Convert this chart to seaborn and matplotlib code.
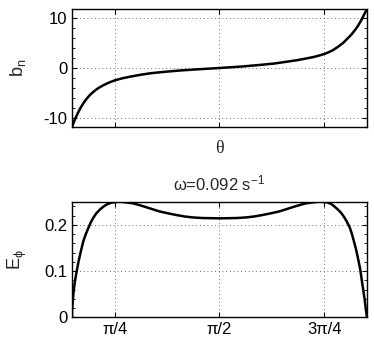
import numpy as np
import pandas as pd
import matplotlib
matplotlib.use("Agg")
import matplotlib.pyplot as plt
from matplotlib.ticker import MultipleLocator
import seaborn as sns

# ---- data ----
theta_b = [0.4636, 0.475, 0.49, 0.51, 0.53, 0.55, 0.575, 0.60, 0.63, 0.66,
           0.70, 0.74, 0.785, 0.84, 0.90, 0.97, 1.05, 1.15, 1.27, 1.40,
           1.5708, 1.74, 1.87, 1.98, 2.09, 2.16, 2.22, 2.28, 2.33, 2.38,
           2.42, 2.46, 2.50, 2.53, 2.56, 2.59, 2.61, 2.63, 2.65, 2.665, 2.678]
b_n = [-11.7, -10.9, -9.9, -8.8, -7.8, -6.95, -6.05, -5.3, -4.6, -4.0,
       -3.4, -2.9, -2.45, -2.05, -1.72, -1.38, -1.05, -0.78, -0.5, -0.27,
       0.0, 0.3, 0.6, 0.88, 1.3, 1.58, 1.88, 2.2, 2.55, 3.0,
       3.5, 4.2, 5.0, 5.8, 6.6, 7.6, 8.35, 9.25, 10.25, 11.05, 11.7]

theta_e = [0.4636, 0.465, 0.468, 0.4733, 0.479, 0.486, 0.494, 0.503, 0.513, 0.524,
           0.536, 0.548, 0.566, 0.586, 0.604, 0.623, 0.645, 0.673, 0.70, 0.724,
           0.755, 0.79, 0.83, 0.87, 0.92, 0.96, 1.00, 1.06, 1.12, 1.19,
           1.25, 1.31, 1.37, 1.44, 1.5708, 1.70, 1.77, 1.83, 1.89, 1.95,
           2.02, 2.08, 2.14, 2.18, 2.22, 2.27, 2.31, 2.35, 2.38, 2.41,
           2.43, 2.46, 2.485, 2.51, 2.53, 2.55, 2.565, 2.58, 2.593, 2.605,
           2.615, 2.625, 2.633, 2.64, 2.648, 2.655, 2.661, 2.666, 2.672, 2.678]
E_phi = [0.0, 0.018, 0.030, 0.049, 0.064, 0.078, 0.092, 0.106, 0.121, 0.135,
         0.150, 0.164, 0.179, 0.193, 0.205, 0.215, 0.2245, 0.233, 0.2395, 0.244,
         0.2475, 0.2495, 0.2497, 0.2485, 0.2465, 0.2435, 0.2400, 0.2345, 0.229, 0.2245,
         0.221, 0.218, 0.216, 0.2147, 0.214, 0.2147, 0.216, 0.218, 0.221, 0.2245,
         0.229, 0.2345, 0.2400, 0.2435, 0.2465, 0.2485, 0.2497, 0.2497, 0.2485, 0.245,
         0.2405, 0.233, 0.2255, 0.215, 0.205, 0.193, 0.180, 0.164, 0.150, 0.135,
         0.121, 0.107, 0.092, 0.078, 0.063, 0.049, 0.037, 0.025, 0.012, 0.0]

x_ticks = [np.pi / 4, np.pi / 2, 3 * np.pi / 4]
x_tick_labels = ["π/4", "π/2", "3π/4"]
b_ticks = [-10, 0, 10]
b_tick_labels = ["-10", "0", "10"]
e_ticks = [0, 0.1, 0.2]
e_tick_labels = ["0", "0.1", "0.2"]
title_text = "ω=0.092 s$^{-1}$"

# ---- styling ----
sns.set_style("ticks")
plt.rcParams["font.family"] = ["Liberation Sans", "DejaVu Sans"]
plt.rcParams["mathtext.default"] = "regular"
plt.rcParams["font.size"] = 12

fig = plt.figure(figsize=(3.74, 3.49), dpi=100)
ax1 = fig.add_axes([72 / 374, 1 - 127 / 349, 295 / 374, 118 / 349])
ax2 = fig.add_axes([72 / 374, 1 - 317.3 / 349, 295 / 374, 115.6 / 349])

df_b = pd.DataFrame({"theta": theta_b, "b": b_n})
df_e = pd.DataFrame({"theta": theta_e, "E": E_phi})

sns.lineplot(data=df_b, x="theta", y="b", ax=ax1, color="black", linewidth=1.8,
             sort=False, estimator=None)
sns.lineplot(data=df_e, x="theta", y="E", ax=ax2, color="black", linewidth=1.8,
             sort=False, estimator=None)

xlim = (theta_b[0], theta_b[-1])
for ax in (ax1, ax2):
    ax.set_xlim(*xlim)
    ax.set_xticks(x_ticks)
    ax.grid(True, which="major", color="0.25", linestyle=(0, (1, 3.5)), linewidth=0.6)
    ax.tick_params(which="both", direction="in", top=True, right=True,
                   labelsize=12, colors="black")
    ax.tick_params(which="major", length=3.5, width=0.8)
    ax.tick_params(which="minor", length=2, width=0.6)
    for s in ax.spines.values():
        s.set_linewidth(1.0)
        s.set_color("black")

ax1.set_ylim(-11.7, 11.7)
ax1.set_yticks(b_ticks)
ax1.set_yticklabels(b_tick_labels)
ax1.yaxis.set_minor_locator(MultipleLocator(2))
ax1.set_xticklabels([])
ax1.set_xlabel("θ", fontsize=13, family=["Liberation Serif", "DejaVu Serif"], labelpad=6)
ax1.set_ylabel("b$_{n}$", fontsize=13, labelpad=11)

ax2.set_ylim(0, 0.25)
ax2.set_yticks(e_ticks)
ax2.set_yticklabels(e_tick_labels)
ax2.yaxis.set_minor_locator(MultipleLocator(0.02))
ax2.set_xticklabels(x_tick_labels)
ax2.set_xlabel("")
ax2.set_ylabel("E$_{\\phi}$", fontsize=13, labelpad=11)
ax2.set_title(title_text, fontsize=12, pad=8)

fig.savefig("out.png", dpi=100)
